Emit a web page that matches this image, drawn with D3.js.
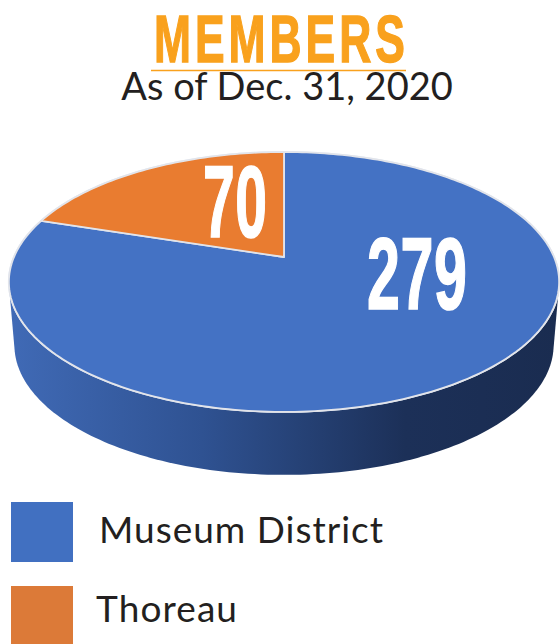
<!DOCTYPE html>
<html>
<head>
<meta charset="utf-8">
<script src="https://cdn.jsdelivr.net/npm/d3@7"></script>
<style>
  html, body { margin: 0; padding: 0; background: #fff; }
  svg { display: block; }
</style>
</head>
<body>
<div id="chart"></div>
<script>
const categories = ['Museum District', 'Thoreau']
const values = [279, 70]
const colours = ['#4472c4', '#e97c30']
const legendColours = ['#4170c1', '#dc7a38']
const title = 'MEMBERS'
const subtitle = 'As of Dec. 31, 2020'

const width = 560
const height = 644

const svg = d3.select('#chart').append('svg')
  .attr('width', width)
  .attr('height', height)

// Side of the disc goes from mid blue on the left to navy on the right
const grad = svg.append('defs').append('linearGradient')
  .attr('id', 'side')
  .attr('x1', 0).attr('x2', 1).attr('y1', 0).attr('y2', 0)
grad.append('stop').attr('offset', '0%').attr('stop-color', '#406ab6')
grad.append('stop').attr('offset', '35%').attr('stop-color', '#2f5292')
grad.append('stop').attr('offset', '72%').attr('stop-color', '#1c3058')
grad.append('stop').attr('offset', '100%').attr('stop-color', '#1a2c50')

// Perspective projection of the unit disc, so the pie centre sits above the ellipse centre
function project(angle, r, dy, sx) {
  const u = Math.sin(angle) * r
  const v = -Math.cos(angle) * r
  const k = -0.192
  const d = 1 + k * v
  return [284 + 270 * sx * u / d, (257 + 75.8 * v) / d + dy]
}

function arcPoints(a0, a1, r, dy, sx) {
  const n = Math.max(2, Math.ceil((a1 - a0) / 0.02))
  return d3.range(n + 1).map(i => project(a0 + (a1 - a0) * i / n, r, dy, sx))
}

const line = d3.line()
const tau = Math.PI * 2

// Depth: hull of the top rim and a slightly narrower bottom rim
const hull = d3.polygonHull(arcPoints(0, tau, 1, 0, 1).concat(arcPoints(0, tau, 1, 63, 0.98)))
svg.append('path')
  .attr('d', line(hull) + 'Z')
  .attr('fill', 'url(#side)')

// Top of the disc
const pie = d3.pie().sort(null)
const slices = pie(values)

svg.append('path')
  .attr('d', line(arcPoints(0, tau, 1, 0, 1)) + 'Z')
  .attr('fill', colours[0])
  .attr('stroke', '#e4ebf5')
  .attr('stroke-width', 2)

svg.selectAll('.slice')
  .data(slices)
  .join('path')
  .attr('class', 'slice')
  .attr('d', d => line([project(0, 0, 0, 1)].concat(arcPoints(d.startAngle, d.endAngle, 1, 0, 1))) + 'Z')
  .attr('fill', (d, i) => colours[i])
  .attr('stroke', '#e2e4ea')
  .attr('stroke-width', 1.8)
  .attr('stroke-linejoin', 'round')

// Narrow type stands in for the condensed face of the original: squeeze to the wanted width
function condensed(text, x, y, w, size, fill, spacing, weight) {
  const t = svg.append('text')
    .attr('x', 0)
    .attr('y', 0)
    .style('font-family', '"Liberation Sans", sans-serif')
    .style('font-weight', 700)
    .style('font-size', `${size}px`)
    .style('letter-spacing', `${spacing}px`)
    .attr('fill', fill)
    .attr('stroke', fill)
    .attr('stroke-width', weight)
    .text(text)
  const sx = w / (t.node().getComputedTextLength() - spacing)
  t.attr('transform', `translate(${x},${y}) scale(${sx},1)`)
  return t
}

condensed(title, 154, 61.5, 251, 67, '#f9a11d', 6, 1.4)
svg.append('line')
  .attr('x1', 151).attr('x2', 406)
  .attr('y1', 70.5).attr('y2', 70.5)
  .attr('stroke', '#f9a11d')
  .attr('stroke-width', 1.5)

svg.append('text')
  .attr('x', 287)
  .attr('y', 100)
  .attr('text-anchor', 'middle')
  .style('font-family', 'Lato, sans-serif')
  .style('font-size', '38px')
  .attr('fill', '#231f20')
  .text(subtitle)

condensed(String(values[1]), 203, 237, 64, 102, '#fff', 1, 1.6)
condensed(String(values[0]), 367, 309, 100, 102, '#fff', 1, 1.6)

// Legend
const legendY = [502, 586]
const legendH = [60, 58]
const legendX = [99, 96]
const legendW = [284, 141]
const legendBase = [543, 622]

svg.selectAll('.swatch')
  .data(categories)
  .join('rect')
  .attr('class', 'swatch')
  .attr('x', 11)
  .attr('y', (d, i) => legendY[i])
  .attr('width', 62)
  .attr('height', (d, i) => legendH[i])
  .attr('fill', (d, i) => legendColours[i])

svg.selectAll('.label')
  .data(categories)
  .join('text')
  .attr('class', 'label')
  .attr('x', (d, i) => legendX[i])
  .attr('y', (d, i) => legendBase[i])
  .attr('textLength', (d, i) => legendW[i])
  .attr('lengthAdjust', 'spacing')
  .style('font-family', 'Lato, sans-serif')
  .style('font-size', '37px')
  .attr('fill', '#231f20')
  .text(d => d)
</script>
</body>
</html>
